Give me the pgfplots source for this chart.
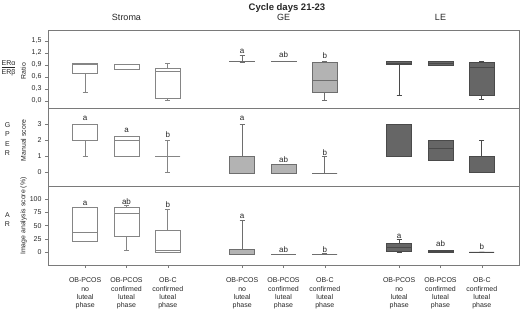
\documentclass[border=0pt]{standalone}
\usepackage{pgfplots}
\pgfplotsset{compat=1.18}
\usepgfplotslibrary{statistics}
\usepackage{fontspec}
\setmainfont{Liberation Sans}
\definecolor{framec}{HTML}{7A7A7A}
\definecolor{txt}{HTML}{262626}
\definecolor{gefill}{HTML}{B3B3B3}
\definecolor{lefill}{HTML}{666666}
\definecolor{stdraw}{HTML}{858585}
\definecolor{gedraw}{HTML}{6E6E6E}
\definecolor{ledraw}{HTML}{4A4A4A}
\newcommand{\bp}[7]{\addplot[#7, line width=0.65pt, boxplot prepared={draw position=#1, lower whisker=#2, lower quartile=#3, median=#4, upper quartile=#5, upper whisker=#6}] coordinates {};}
\newcommand{\lab}[3]{\node[anchor=base, font=\fontsize{8}{8}\selectfont, text=txt, inner sep=0pt] at (axis cs:#1,#2) {#3};}
\pgfplotsset{
  panel/.style={scale only axis, width=471pt, xmin=0.1, xmax=11.5,
    anchor=north west, clip=false,
    axis line style={framec, line width=0.7pt},
    tick style={framec, line width=0.5pt},
    tick align=outside, major tick length=3pt,
    ytick pos=left, xtick pos=bottom,
    ticklabel style={font=\fontsize{7}{7}\selectfont, text=txt},
    /pgf/number format/assume math mode=true,
    boxplot/draw direction=y,
    boxplot/box extend=0.6, boxplot/whisker extend=0.12,
    xtick=\empty},
  st/.style={draw=stdraw, fill=white},
  ge/.style={draw=gedraw, fill=gefill},
  le/.style={draw=ledraw, fill=lefill},
}
\begin{document}
\begin{tikzpicture}
\path[use as bounding box] (0,0) rectangle (520pt,-311pt);
% titles
\node[anchor=base, font=\bfseries\fontsize{9.5}{10}\selectfont, text=txt] at (287pt,-10pt) {Cycle days 21-23};
\node[anchor=base, font=\fontsize{9}{10}\selectfont, text=txt] at (126.5pt,-20.7pt) {Stroma};
\node[anchor=base, font=\fontsize{9}{10}\selectfont, text=txt] at (283.5pt,-20.7pt) {GE};
\node[anchor=base, font=\fontsize{9}{10}\selectfont, text=txt] at (440.5pt,-20.7pt) {LE};
% left labels
\node[font=\fontsize{7}{8}\selectfont, text=txt, align=center, inner sep=0pt] at (8.5pt,-68.5pt) {\underline{ERα}\\[1pt]ERβ};
\node[rotate=90, font=\fontsize{6.9}{7}\selectfont, text=txt, inner sep=0pt] at (23.5pt,-71pt) {Ratio};
\node[font=\fontsize{7}{9.5}\selectfont, text=txt, align=center, inner sep=0pt] at (7.5pt,-139pt) {G\\P\\E\\R};
\node[rotate=90, font=\fontsize{6.9}{7}\selectfont, text=txt, inner sep=0pt] at (23.5pt,-140.5pt) {Manual score};
\node[font=\fontsize{7}{9}\selectfont, text=txt, align=center, inner sep=0pt] at (7.5pt,-220pt) {A\\R};
\node[rotate=90, font=\fontsize{6.9}{7}\selectfont, text=txt, inner sep=0pt] at (23.5pt,-216pt) {Image analysis score (\%)};
% Row 1: ER alpha / ER beta ratio
\begin{axis}[panel, at={(48pt,-30pt)}, height=78pt, ymin=-0.175, ymax=1.775,
  ytick={0,0.3,0.6,0.9,1.2,1.5},
  yticklabel style={/pgf/number format/.cd, use comma, fixed, fixed zerofill, precision=1}]
\bp{1}{0.21}{0.68}{0.92}{0.93}{0.95}{st}
\bp{2}{0.78}{0.78}{0.80}{0.92}{0.92}{st}
\bp{3}{0.01}{0.06}{0.73}{0.82}{0.94}{st}
\bp{4.8}{0.96}{0.99}{1.0}{1.0}{1.13}{ge}
\bp{5.8}{0.99}{0.99}{1.0}{1.0}{1.0}{ge}
\bp{6.8}{0.02}{0.22}{0.52}{0.97}{0.99}{ge}
\bp{8.6}{0.14}{0.91}{0.95}{0.98}{0.99}{le}
\bp{9.6}{0.88}{0.88}{0.93}{0.98}{0.98}{le}
\bp{10.6}{0.03}{0.14}{0.84}{0.97}{0.99}{le}
\lab{4.8}{1.19}{a}
\lab{5.8}{1.08}{ab}
\lab{6.8}{1.06}{b}
\end{axis}
% Row 2: GPER manual score
\begin{axis}[panel, at={(48pt,-108pt)}, height=78pt, ymin=-0.875, ymax=4.0,
  ytick={0,1,2,3}]
\bp{1}{1}{2}{2}{3}{3}{st}
\bp{2}{1}{1}{2}{2.25}{2.25}{st}
\bp{3}{0}{1}{1}{1}{2}{st}
\bp{4.8}{-0.08}{-0.08}{-0.08}{0.95}{3}{ge}
\bp{5.8}{-0.08}{-0.08}{-0.08}{0.5}{0.5}{ge}
\bp{6.8}{-0.08}{-0.08}{-0.08}{-0.08}{1}{ge}
\bp{8.6}{1}{1}{3}{3}{3}{le}
\bp{9.6}{0.75}{0.75}{1.5}{2}{2}{le}
\bp{10.6}{0}{0}{1}{1}{2}{le}
\lab{1}{3.19}{a}
\lab{2}{2.44}{a}
\lab{3}{2.14}{b}
\lab{4.8}{3.19}{a}
\lab{5.8}{0.58}{ab}
\lab{6.8}{1.06}{b}
\end{axis}
% Row 3: AR image analysis score
\begin{axis}[panel, at={(48pt,-186pt)}, height=79pt, ymin=-24.7, ymax=125.2,
  ytick={0,25,50,75,100},
  xtick={1,2,3,4.8,5.8,6.8,8.6,9.6,10.6},
  xticklabels={{OB-PCOS\\no\\luteal\\phase},{OB-PCOS\\confirmed\\luteal\\phase},{OB-C\\confirmed\\luteal\\phase},
               {OB-PCOS\\no\\luteal\\phase},{OB-PCOS\\confirmed\\luteal\\phase},{OB-C\\confirmed\\luteal\\phase},
               {OB-PCOS\\no\\luteal\\phase},{OB-PCOS\\confirmed\\luteal\\phase},{OB-C\\confirmed\\luteal\\phase}},
  xticklabel style={align=center, font=\fontsize{7}{8.3}\selectfont, yshift=-6.5pt}]
\bp{1}{21}{21}{37}{84}{84}{st}
\bp{2}{2.5}{30}{74}{84}{88}{st}
\bp{3}{0}{0}{3}{41}{81}{st}
\bp{4.8}{-4}{-4}{-4}{5}{60}{ge}
\bp{5.8}{-4}{-4}{-4}{-4}{-4}{ge}
\bp{6.8}{-4}{-4}{-4}{-4}{-3}{ge}
\bp{8.6}{0}{0.5}{8}{16.5}{24}{le}
\bp{9.6}{-0.5}{-0.5}{1}{3.5}{3.5}{le}
\bp{10.6}{0}{0}{0}{0}{0}{le}
\lab{1}{88}{a}
\lab{2}{91}{ab}
\lab{3}{84}{b}
\lab{4.8}{62.6}{a}
\lab{5.8}{-0.6}{ab}
\lab{6.8}{-0.6}{b}
\lab{8.6}{26}{a}
\lab{9.6}{10}{ab}
\lab{10.6}{5}{b}
\end{axis}
\end{tikzpicture}
\end{document}
